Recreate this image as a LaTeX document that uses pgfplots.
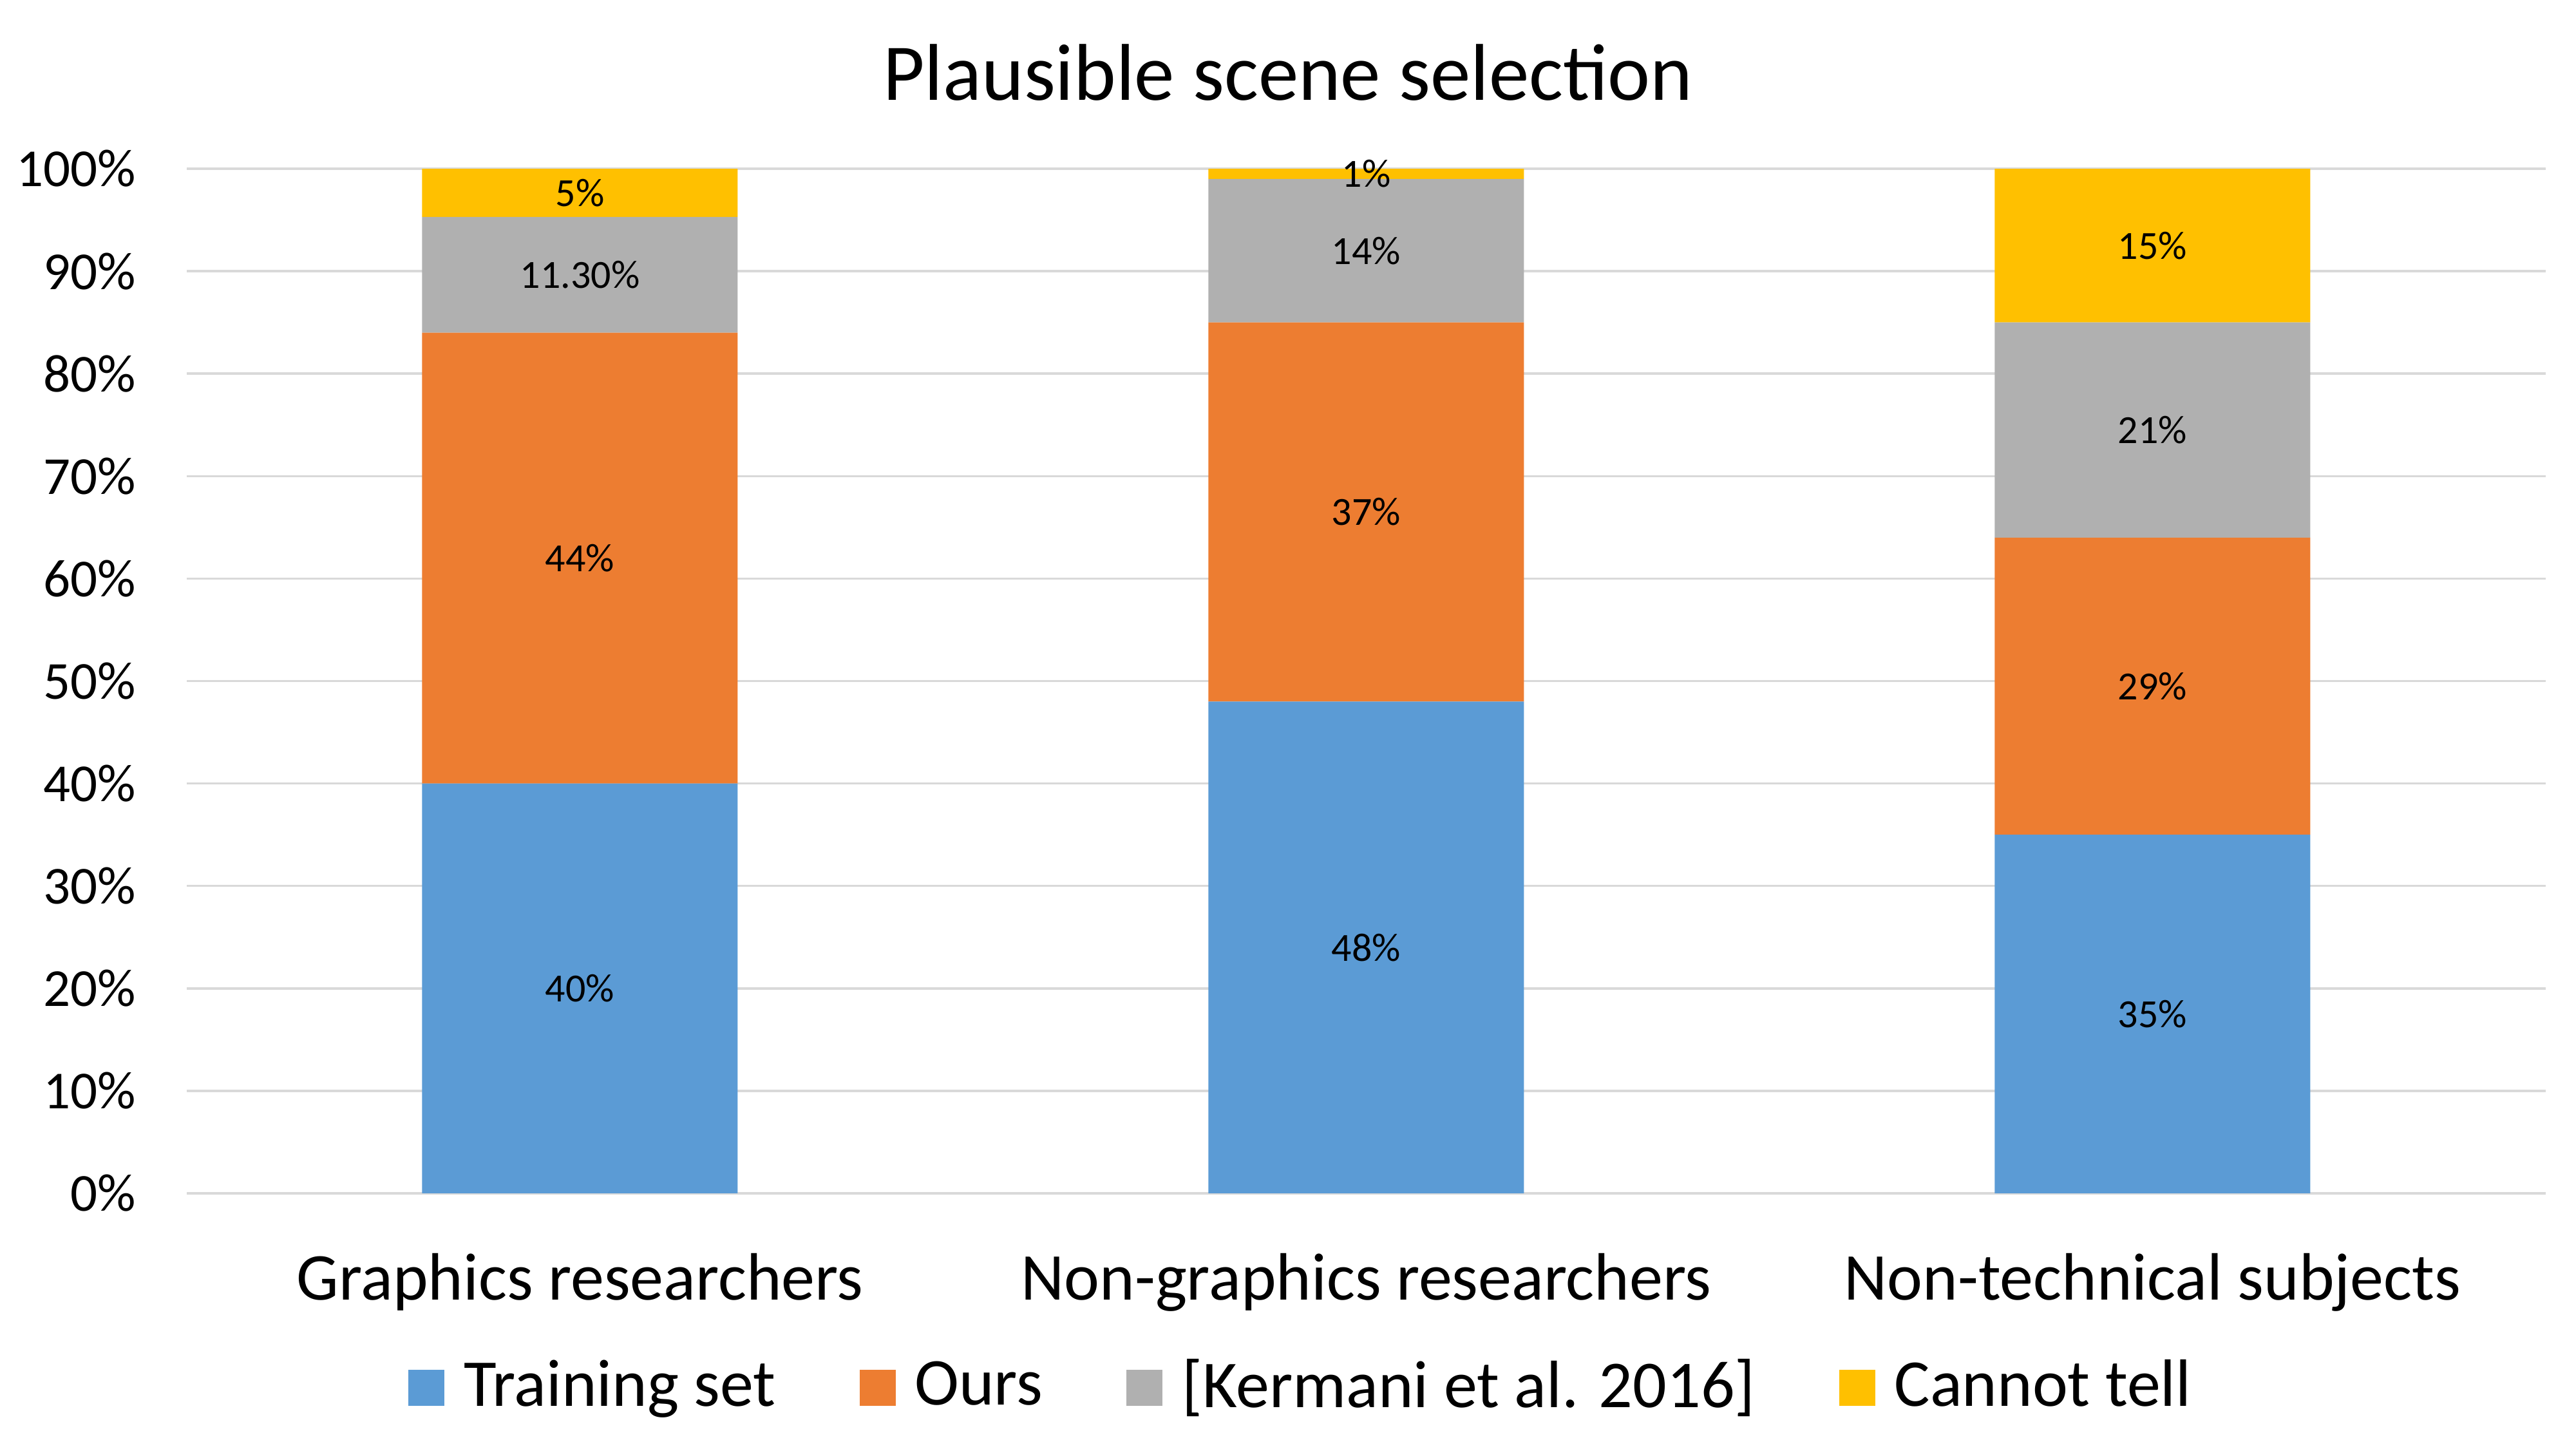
\documentclass[border=0pt]{standalone}
\usepackage{pgfplots}
\pgfplotsset{compat=1.18}
\usepackage{fontspec}
\setmainfont{Carlito}
\definecolor{cblue}{HTML}{5B9BD5}
\definecolor{corange}{HTML}{ED7D31}
\definecolor{cgrey}{HTML}{B0B0B0}
\definecolor{cyellow}{HTML}{FFC000}
\definecolor{gridc}{HTML}{D9D9D9}
\pgfplotsset{frame/.style={at={(29pt,39.7pt)}, anchor=south west,
  width=366.3pt, height=159.1pt, scale only axis,
  xmin=-0.5, xmax=2.5, ymin=0, ymax=100}}
\begin{document}
\begin{tikzpicture}
\path[use as bounding box] (0,0) rectangle (400pt,225pt);
\node[anchor=base, font=\fontsize{12.5}{15}\selectfont] at (200pt,209.4pt) {Plausible scene selection};
\begin{axis}[
  frame,
  ybar stacked, bar width=49pt,
  xtick={0,1,2},
  xticklabels={Graphics researchers, Non-graphics researchers, Non-technical subjects},
  ytick={0,10,20,30,40,50,60,70,80,90,100},
  yticklabels={0\%,10\%,20\%,30\%,40\%,50\%,60\%,70\%,80\%,90\%,100\%},
  axis line style={draw=none},
  tick style={draw=none},
  ymajorgrids, grid style={line width=0.35pt, color=gridc},
  xticklabel style={font=\fontsize{10.4}{12}\selectfont, anchor=base, yshift=-16.6pt},
  yticklabel style={font=\fontsize{8.3}{10}\selectfont, xshift=-4.4pt},
  legend columns=4,
  legend image code/.code={\fill[#1] (0pt,-2.8pt) rectangle (5.6pt,2.8pt); \path (6.6pt,0pt);},
  legend style={at={(0.4746,-0.19)}, anchor=center, draw=none, fill=none,
    font=\fontsize{10.4}{12}\selectfont,
    /tikz/every even column/.append style={column sep=11pt}},
]
\addplot[fill=cblue, draw=none] coordinates {(0,40) (1,48) (2,35)};
\addlegendentry{Training set}
\addplot[fill=corange, draw=none] coordinates {(0,44) (1,37) (2,29)};
\addlegendentry{Ours}
\addplot[fill=cgrey, draw=none] coordinates {(0,11.3) (1,14) (2,21)};
\addlegendentry{[Kermani et al. 2016]}
\addplot[fill=cyellow, draw=none] coordinates {(0,5) (1,1) (2,15)};
\addlegendentry{Cannot tell}
\end{axis}
\begin{axis}[frame, hide axis, clip=false]
\addplot[draw=none, mark=none, point meta=explicit symbolic, nodes near coords,
  every node near coord/.append style={anchor=center, font=\fontsize{6.2}{7}\selectfont}]
  coordinates {
  (0,20) [40\%] (0,62) [44\%] (0,89.65) [11.30\%] (0,97.65) [5\%]
  (1,24) [48\%] (1,66.5) [37\%] (1,92) [14\%] (1,99.5) [1\%]
  (2,17.5) [35\%] (2,49.5) [29\%] (2,74.5) [21\%] (2,92.5) [15\%]
  };
\end{axis}
\end{tikzpicture}
\end{document}
